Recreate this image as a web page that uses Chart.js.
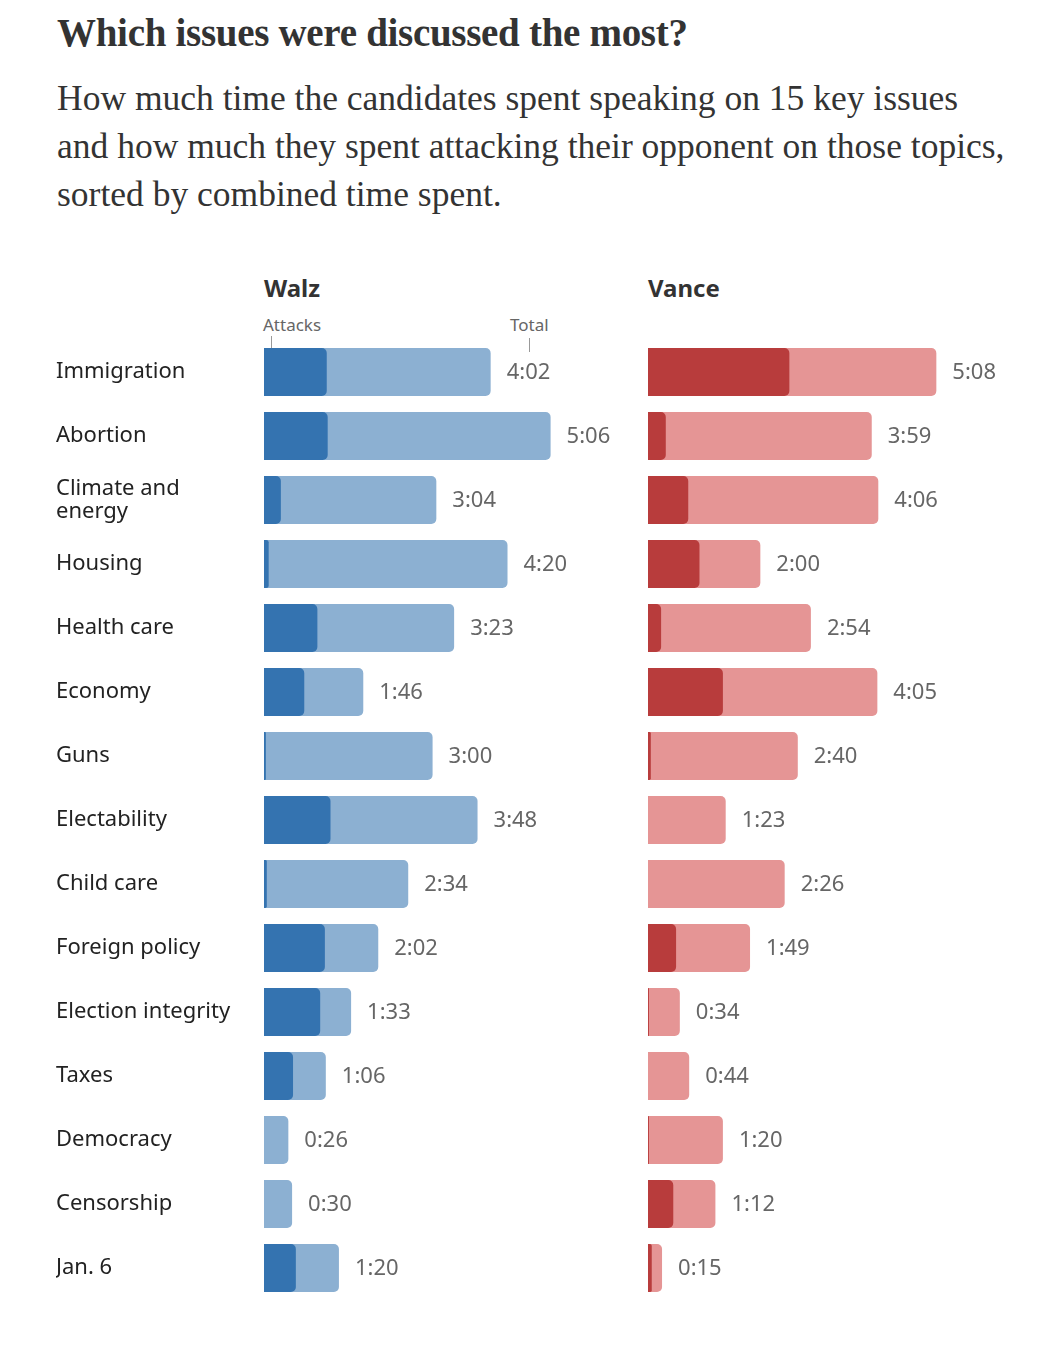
<!DOCTYPE html>
<html>
<head>
<meta charset="utf-8">
<script src="https://cdn.jsdelivr.net/npm/chart.js@4"></script>
<style>
  html, body { margin: 0; padding: 0; background: #fff; }
  body { width: 1044px; height: 1346px; position: relative; overflow: hidden; }
  .title { position: absolute; left: 57px; top: 10px; margin: 0; font: bold 39px "Liberation Serif", serif; color: #333; letter-spacing: -0.3px; white-space: nowrap; }
  .sub { position: absolute; left: 57px; top: 74px; margin: 0; font: 35.5px/48px "Liberation Serif", serif; color: #333; white-space: nowrap; }
  .hdr { position: absolute; top: 271px; font: bold 24px "Noto Sans", sans-serif; color: #333; }
  .ann { position: absolute; top: 313px; font: 17px "Noto Sans", sans-serif; color: #666; }
  .tick { position: absolute; width: 1px; background: #999; }
  canvas { position: absolute; }
</style>
</head>
<body>
<h1 class="title">Which issues were discussed the most?</h1>
<p class="sub">How much time the candidates spent speaking on 15 key issues<br>and how much they spent attacking their opponent on those topics,<br>sorted by combined time spent.</p>
<div class="hdr" style="left:264px">Walz</div>
<div class="hdr" style="left:648px">Vance</div>
<div class="ann" style="left:263px">Attacks</div>
<div class="tick" style="left:271px; top:336px; height:12px"></div>
<div class="ann" style="left:510px">Total</div>
<div class="tick" style="left:529px; top:338px; height:14px"></div>
<div style="position:absolute;left:0;top:322px;width:648px;height:1000px"><canvas id="walz"></canvas></div>
<div style="position:absolute;left:648px;top:322px;width:396px;height:1000px"><canvas id="vance"></canvas></div>
<script>
const categories = [
  "Immigration", "Abortion", ["Climate and", "energy"], "Housing", "Health care",
  "Economy", "Guns", "Electability", "Child care", "Foreign policy",
  "Election integrity", "Taxes", "Democracy", "Censorship", "Jan. 6"
];
// seconds
const walzTotal   = [242, 306, 184, 260, 203, 106, 180, 228, 154, 122, 93, 66, 26, 30, 80];
const walzAttacks = [67, 68, 18, 5, 57, 43, 2, 71, 3, 65, 60, 31, 0, 0, 34];
const vanceTotal   = [308, 239, 246, 120, 174, 245, 160, 83, 146, 109, 34, 44, 80, 72, 15];
const vanceAttacks = [151, 19, 43, 55, 14, 80, 3, 0, 0, 30, 1, 0, 1, 27, 4];
const xMax = { walz: 410, vance: 423 };

function fmt(s) {
  const m = Math.floor(s / 60), r = s % 60;
  return m + ":" + (r < 10 ? "0" : "") + r;
}

const valueLabels = {
  id: "valueLabels",
  afterDatasetsDraw(chart) {
    const ctx = chart.ctx;
    const ds = chart.data.datasets[1];
    const meta = chart.getDatasetMeta(1);
    ctx.save();
    ctx.font = "22px 'Noto Sans', sans-serif";
    ctx.fillStyle = "#666";
    ctx.textBaseline = "middle";
    ctx.textAlign = "left";
    meta.data.forEach((bar, i) => {
      ctx.fillText(fmt(ds.data[i]), bar.x + 16, bar.y + 1);
    });
    ctx.restore();
  }
};

function makeChart(id, total, attacks, dark, light, showLabels, max) {
  return new Chart(document.getElementById(id), {
    type: "bar",
    data: {
      labels: categories,
      datasets: [
        { label: "Attacks", data: attacks, backgroundColor: dark, borderRadius: 5, grouped: false, order: 0,
          barPercentage: 0.75, categoryPercentage: 1 },
        { label: "Total", data: total, backgroundColor: light, borderRadius: 5, grouped: false, order: 1,
          barPercentage: 0.75, categoryPercentage: 1 }
      ]
    },
    options: {
      indexAxis: "y",
      responsive: true,
      maintainAspectRatio: false,
      animation: false,
      layout: { padding: { left: showLabels ? 56 : 0, right: 0, top: 18, bottom: 22 } },
      plugins: { legend: { display: false }, tooltip: { enabled: false } },
      scales: {
        x: { display: false, min: 0, max: max },
        y: {
          display: showLabels,
          grid: { display: false },
          border: { display: false },
          afterFit(scale) { scale.width = showLabels ? 208 : 0; },
          ticks: {
            crossAlign: "far",
            color: "#222",
            padding: 0,
            font: { family: "'Noto Sans', sans-serif", size: 22, lineHeight: 1.05 }
          }
        }
      }
    },
    plugins: [valueLabels]
  });
}

makeChart("walz", walzTotal, walzAttacks, "#3473b0", "#8cb0d2", true, xMax.walz);
makeChart("vance", vanceTotal, vanceAttacks, "#b83c3c", "#e59595", false, xMax.vance);
</script>
</body>
</html>
